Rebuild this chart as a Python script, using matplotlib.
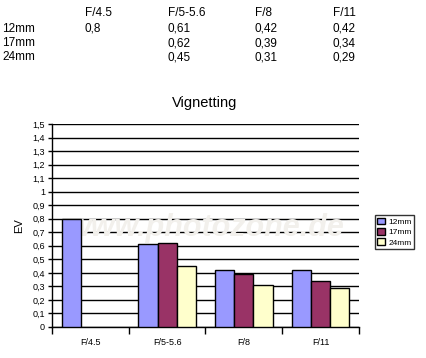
import numpy as np
import matplotlib
matplotlib.use("Agg")
import matplotlib.pyplot as plt

plt.rcParams['font.family'] = ['Liberation Sans', 'DejaVu Sans']

apertures = ["F/4.5", "F/5-5.6", "F/8", "F/11"]
series = ["12mm", "17mm", "24mm"]
ev_12 = [0.8, 0.61, 0.42, 0.42]
ev_17 = [np.nan, 0.62, 0.39, 0.34]
ev_24 = [np.nan, 0.45, 0.31, 0.29]
colors = ["#9999FF", "#993366", "#FFFFCC"]

fig = plt.figure(figsize=(4.27, 3.58), dpi=100)

# data table on top
def fmt(v):
    return "" if np.isnan(v) else f"{v:g}".replace(".", ",")

col_x = [85, 168, 255, 333]
for x, a in zip(col_x, apertures):
    fig.text(x / 427, 1 - 13 / 358, a, fontsize=8.5, va="center")
for r, (name, vals) in enumerate(zip(series, [ev_12, ev_17, ev_24])):
    y = 1 - (28.5 + 14.5 * r) / 358
    fig.text(2 / 427, y, name, fontsize=8.5, va="center")
    for x, v in zip(col_x, vals):
        fig.text(x / 427, y, fmt(v), fontsize=8.5, va="center")

ax = fig.add_axes([52 / 427, 31 / 358, 307 / 427, 203 / 358])
x = np.arange(len(apertures))
w = 0.25
for i, (vals, c, name) in enumerate(zip([ev_12, ev_17, ev_24], colors, series)):
    ax.bar(x + (i - 1) * w, vals, w, color=c, edgecolor="black", linewidth=1,
           label=name, zorder=3)

ax.set_xlim(-0.5, len(apertures) - 0.5)
ax.set_ylim(0, 1.5)
yt = np.round(np.arange(0, 1.51, 0.1), 1)
ax.set_yticks(yt)
ax.set_yticklabels([f"{v:g}".replace(".", ",") for v in yt], fontsize=6.5)
ax.yaxis.grid(True, color="black", linewidth=1, zorder=0)
ax.set_xticks(x)
ax.set_xticklabels(apertures, fontsize=6.5)
ax.tick_params(axis="x", length=0, pad=8)
ax.set_xticks(np.arange(-0.5, len(apertures)), minor=True)
ax.tick_params(axis="x", which="minor", length=5, width=1, direction="out")
ax.tick_params(axis="y", length=3, width=1, pad=2)
for s in ["top", "right"]:
    ax.spines[s].set_visible(False)
ax.spines["left"].set_linewidth(1)
ax.spines["bottom"].set_linewidth(1)
ax.set_ylabel("EV", fontsize=8, labelpad=6)
ax.set_title("Vignetting", fontsize=10.5, pad=12, x=(205 - 52) / 307)

# watermark
ax.text(0.5, 0.49, "www.photozone.de", transform=ax.transAxes, fontsize=22,
        fontweight="bold", style="italic", color="#f2f0ec", ha="center",
        va="center", zorder=2)

leg = fig.legend(loc="upper left", bbox_to_anchor=(375 / 427, 1 - 215 / 358),
                 fontsize=6, frameon=True, fancybox=False, edgecolor="black",
                 handlelength=0.9, handleheight=0.9, handletextpad=0.4,
                 labelspacing=0.25, borderpad=0.3, borderaxespad=0)
leg.get_frame().set_linewidth(1)

fig.savefig("out.png", dpi=100)
